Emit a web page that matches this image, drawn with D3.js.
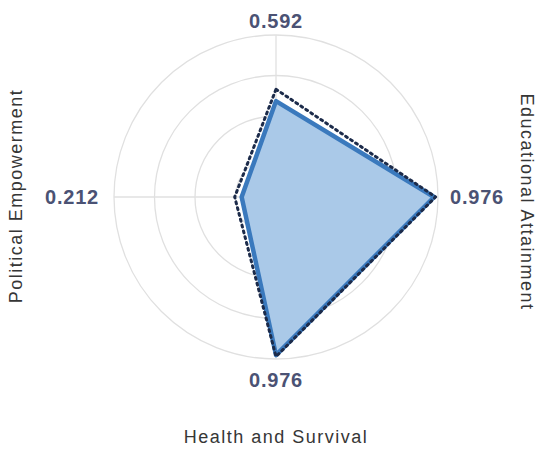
<!DOCTYPE html>
<html lang="en">
<head>
<meta charset="UTF-8">
<script src="https://d3js.org/d3.v7.min.js"></script>
<style>
  body { margin: 0; background: #fff; }
  text { font-family: "Liberation Sans", Arial, sans-serif; }
</style>
</head>
<body>
<svg id="chart" width="540" height="451"></svg>
<script>
// axes clockwise from top
var axes = ['Economic Participation', 'Educational Attainment', 'Health and Survival', 'Political Empowerment'];
var countryValues = [0.592, 0.976, 0.976, 0.212];
var benchmarkValues = [0.665, 0.985, 0.985, 0.255];
var ringTicks = [0.25, 0.5, 0.75, 1.0];

var cx = 276, cy = 197, radius = 162;
var svg = d3.select('#chart');
var g = svg.append('g').attr('transform', 'translate(' + cx + ',' + cy + ')');

var r = d3.scaleLinear().domain([0, 1]).range([0, radius]);
var angle = d3.scalePoint().domain(axes).range([0, 2 * Math.PI * 3 / 4]);

// grid rings
g.selectAll('.ring')
    .data(ringTicks)
    .join('circle')
    .attr('r', function(d) { return r(d); })
    .attr('fill', 'none')
    .attr('stroke', '#e0e0e0')
    .attr('stroke-width', 1.3);

// spokes
g.selectAll('.spoke')
    .data(axes)
    .join('line')
    .attr('x1', 0).attr('y1', 0)
    .attr('x2', function(d) { return r(1) * Math.sin(angle(d)); })
    .attr('y2', function(d) { return -r(1) * Math.cos(angle(d)); })
    .attr('stroke', '#e0e0e0')
    .attr('stroke-width', 1.3);

var radial = d3.lineRadial()
    .angle(function(d, i) { return angle(axes[i]); })
    .radius(function(d) { return r(d); })
    .curve(d3.curveLinearClosed);

g.append('path')
    .datum(countryValues)
    .attr('d', radial)
    .attr('fill', '#aac9e8')
    .attr('stroke', '#3a79bd')
    .attr('stroke-width', 4.5)
    .attr('stroke-linejoin', 'round');

g.append('path')
    .datum(benchmarkValues)
    .attr('d', radial)
    .attr('fill', 'none')
    .attr('stroke', '#1c2b4a')
    .attr('stroke-width', 3)
    .attr('stroke-dasharray', '2,4')
    .attr('stroke-linecap', 'round')
    .attr('stroke-linejoin', 'round');

// value labels, offset from the centre per axis
var labelOffset = [176, 201, 183, 204];
g.selectAll('.val')
    .data(countryValues)
    .join('text')
    .attr('x', function(d, i) { return labelOffset[i] * Math.sin(angle(axes[i])); })
    .attr('y', function(d, i) { return -labelOffset[i] * Math.cos(angle(axes[i])); })
    .attr('text-anchor', 'middle')
    .attr('dominant-baseline', 'central')
    .attr('font-size', 20)
    .attr('font-weight', 'bold')
    .attr('letter-spacing', 0.8)
    .attr('fill', '#4b5274')
    .text(function(d) { return d.toFixed(3); });

// axis titles (top one falls outside the frame)
function title(transform, label) {
    svg.append('text')
        .attr('transform', transform)
        .attr('text-anchor', 'middle')
        .attr('dominant-baseline', 'central')
        .attr('font-size', 18)
        .attr('letter-spacing', 1.5)
        .attr('fill', '#363636')
        .text(label);
}
title('translate(276,437)', axes[2]);
title('translate(16,196) rotate(-90)', axes[3]);
title('translate(527,202) rotate(90)', axes[1]);
</script>
</body>
</html>
